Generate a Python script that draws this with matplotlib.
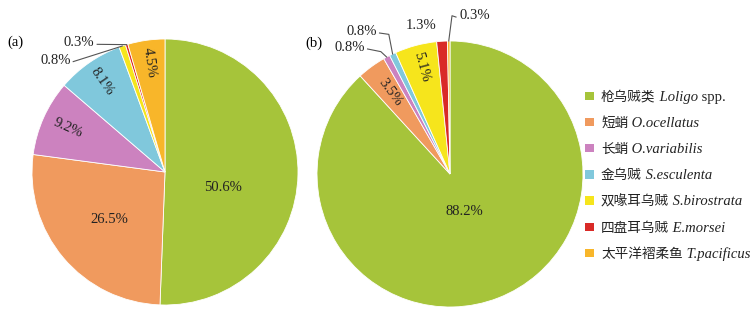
import matplotlib
matplotlib.use('Agg')
import matplotlib.pyplot as plt
import numpy as np
from matplotlib.patches import Rectangle

# ---------------- data ----------------
species_cn = ['枪乌贼类', '短蛸', '长蛸', '金乌贼', '双喙耳乌贼', '四盘耳乌贼', '太平洋褶柔鱼']
species_latin = ['Loligo', 'O.ocellatus', 'O.variabilis', 'S.esculenta',
                 'S.birostrata', 'E.morsei', 'T.pacificus']
species_suffix = [' spp.', '', '', '', '', '', '']
share_a = [50.6, 26.5, 9.2, 8.1, 0.8, 0.3, 4.5]
share_b = [88.2, 3.5, 0.8, 0.8, 5.1, 1.3, 0.3]
panel_labels = ['(a)', '(b)']

# ---------------- style ----------------
colors = ['#a6c43a', '#f09a5e', '#cc82bf', '#80c8dc', '#f6e51c', '#d92a27', '#f8b62a']
SERIF = 'Liberation Serif'
CJK = 'Noto Sans CJK SC'
W, H = 750, 312
R = 133
FS = 10.5
LINE_C = '#555555'

# label styles: ('in', r, rotate, angle_offset) or ('out', text_xy, ha, elbow_xy or None)
style_a = [('in', 0.45, False, -14), ('in', 0.55, False, 0), ('in', 0.80, True, 0),
           ('in', 0.83, True, 0), ('out', (-0.71, 0.84), 'right', None),
           ('out', (-0.53, 0.97), 'right', None), ('in', 0.83, True, 0)]
style_b = [('in', 0.30, False, 0), ('in', 0.76, True, 0),
           ('out', (-0.64, 0.95), 'right', (-0.52, 0.92)),
           ('out', (-0.55, 1.07), 'right', (-0.46, 1.05)),
           ('in', 0.83, True, 0), ('out', (-0.22, 1.12), 'center', 'none'),
           ('out', (0.075, 1.19), 'left', (0.015, 1.19))]

fig = plt.figure(figsize=(W / 100, H / 100), dpi=100)


def draw_pie(cx, cy, values, styles, panel, panel_xy):
    ax = fig.add_axes([(cx - R) / W, (H - cy - R) / H, 2 * R / W, 2 * R / H])
    wedges, _ = ax.pie(values, colors=colors, startangle=90, counterclock=False,
                       radius=1.0, wedgeprops=dict(edgecolor='white', linewidth=0.6))
    ax.set_xlim(-1, 1)
    ax.set_ylim(-1, 1)
    ax.set_aspect('equal')
    ax.axis('off')
    for w, v, st in zip(wedges, values, styles):
        mid = (w.theta1 + w.theta2) / 2.0
        txt = f'{v:.1f}%'
        if st[0] == 'in':
            _, r, rot, off = st
            a = np.deg2rad(mid + off)
            x, y = r * np.cos(a), r * np.sin(a)
            rotation = 0
            if rot:
                m = mid % 360
                rotation = m - 180 if 90 < m < 270 else m
            ax.text(x, y, txt, ha='center', va='center', rotation=rotation,
                    rotation_mode='anchor', family=SERIF, fontsize=FS, color='#222222')
        else:
            _, (tx, ty), ha, elbow = st
            ax.text(tx, ty, txt, ha=ha, va='center', family=SERIF, fontsize=FS,
                    color='#222222', clip_on=False)
            if elbow == 'none':
                continue
            a = np.deg2rad(mid)
            ex, ey = np.cos(a), np.sin(a)
            sx = tx + (0.02 if ha == 'right' else -0.03)
            if elbow is None:
                xs, ys = [sx, ex], [ty - 0.01, ey]
            else:
                xs, ys = [sx, elbow[0], ex], [ty - 0.01, elbow[1], ey]
            ax.plot(xs, ys, color=LINE_C, lw=0.8, clip_on=False)
    fig.text(panel_xy[0] / W, 1 - panel_xy[1] / H, panel, ha='center', va='center',
             family=SERIF, fontsize=FS)
    return ax


draw_pie(165, 172, share_a, style_a, panel_labels[0], (15, 42))
draw_pie(450, 174, share_b, style_b, panel_labels[1], (314, 43))

# ---------------- legend ----------------
lax = fig.add_axes([0, 0, 1, 1])
lax.set_xlim(0, W)
lax.set_ylim(H, 0)
lax.axis('off')
renderer = fig.canvas.get_renderer()
y0, dy = 96, 26.2
for i, (cn, la, suf) in enumerate(zip(species_cn, species_latin, species_suffix)):
    y = y0 + i * dy
    lax.add_patch(Rectangle((585, y - 4.5), 8.5, 8.5, facecolor=colors[i], edgecolor='none'))
    x = 601
    base = y + 4.5
    pieces = [(cn, dict(family=CJK, fontsize=9.8)),
              (' ' + la, dict(family=SERIF, style='italic', fontsize=10.5)),
              (suf, dict(family=SERIF, fontsize=10.5))]
    for s, kw in pieces:
        if not s:
            continue
        t = lax.text(x, base, s, ha='left', va='baseline', color='#222222', **kw)
        bb = t.get_window_extent(renderer)
        x += bb.width

fig.savefig('out.png', dpi=100)
